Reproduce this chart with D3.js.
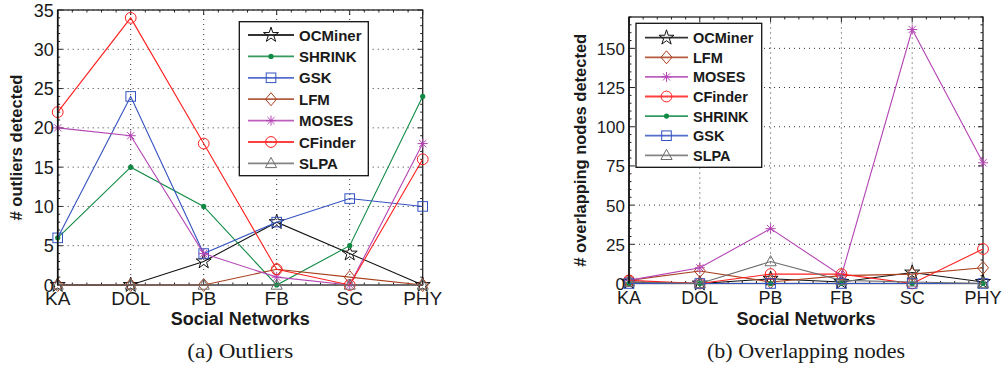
<!DOCTYPE html>
<html><head><meta charset="utf-8">
<script src="https://cdn.jsdelivr.net/npm/d3@7"></script>
<style>
body{margin:0;background:#fff}
svg{display:block}
text{font-family:"Liberation Sans",Arial,Helvetica,sans-serif;fill:#1a1a1a}
</style>
</head><body>
<svg id="fig" width="1004" height="367"></svg>
<script>
// Social networks on the x axis
const categories = ["KA", "DOL", "PB", "FB", "SC", "PHY"];

// (a) number of outliers detected per method
const outOCMiner = [0, 0, 3, 8, 4, 0];
const outSHRINK  = [6, 15, 10, 0, 5, 24];
const outGSK     = [6, 24, 4, 8, 11, 10];
const outLFM     = [0, 0, 0, 2, 1, 0];
const outMOSES   = [20, 19, 4, 1, 0, 18];
const outCFinder = [22, 34, 18, 2, 0, 16];
const outSLPA    = [0, 0, 0, 0, 0, 0];

// (b) number of overlapping nodes detected per method
const ovOCMiner = [1, 0, 3, 1, 7, 1];
const ovLFM     = [2, 8, 1, 5, 6, 10];
const ovMOSES   = [2, 10, 35, 5, 162, 77];
const ovCFinder = [2, 0, 6, 6, 0, 22];
const ovSHRINK  = [0, 0, 0, 0, 0, 0];
const ovGSK     = [0, 0, 0, 0, 0, 0];
const ovSLPA    = [1, 0, 14, 2, 1, 0];

// y tick labels
const outTicks = [0, 5, 10, 15, 20, 25, 30, 35];
const ovTicks  = [0, 25, 50, 75, 100, 125, 150];

// method styles (colour + marker)
const style = {
  OCMiner: {color: "#111111", marker: "star"},
  SHRINK:  {color: "#108a44", marker: "dot"},
  GSK:     {color: "#3553c0", marker: "square"},
  LFM:     {color: "#a8401e", marker: "diamond"},
  MOSES:   {color: "#b444b4", marker: "asterisk"},
  CFinder: {color: "#ff1e1e", marker: "circle"},
  SLPA:    {color: "#6e6e6e", marker: "triangle"}
};

const svg = d3.select("#fig");

function marker(g, type, color, x, y) {
  const m = g.append("g").attr("transform", `translate(${x},${y})`)
    .attr("fill", "none").attr("stroke", color).attr("stroke-width", 1);
  if (type === "star") {
    m.append("path").attr("d", d3.symbol(d3.symbolStar, 70)());
  } else if (type === "dot") {
    m.append("circle").attr("r", 2.6).attr("fill", color).attr("stroke", "none");
  } else if (type === "square") {
    m.append("rect").attr("x", -4.8).attr("y", -4.8).attr("width", 9.6).attr("height", 9.6);
  } else if (type === "diamond") {
    m.append("path").attr("d", "M0,-6.5L5.5,0L0,6.5L-5.5,0Z");
  } else if (type === "asterisk") {
    m.append("path").attr("d", "M-5,0H5M0,-5V5M-3.6,-3.6L3.6,3.6M-3.6,3.6L3.6,-3.6");
  } else if (type === "circle") {
    m.append("circle").attr("r", 5.4);
  } else if (type === "triangle") {
    m.append("path").attr("d", "M0,-6L5.6,4.2L-5.6,4.2Z");
  }
}

function panel(cfg) {
  const g = svg.append("g");
  const x = d3.scalePoint().domain(categories).range([cfg.x0, cfg.x1]).padding(0);
  const xi = d3.scaleLinear().domain([0, categories.length - 1]).range([cfg.x0, cfg.x1]);
  const y = d3.scaleLinear().domain([0, cfg.ymax]).range([cfg.y0, cfg.y1]);

  // dotted grid
  const grid = g.append("g").attr("stroke", "#333").attr("stroke-width", 1)
    .attr("stroke-dasharray", "1,4");
  categories.slice(1, -1).forEach(c => {
    grid.append("line").attr("x1", x(c)).attr("x2", x(c)).attr("y1", cfg.y0).attr("y2", cfg.y1);
  });
  cfg.ticks.slice(1).forEach(t => {
    grid.append("line").attr("x1", cfg.x0).attr("x2", cfg.x1).attr("y1", y(t)).attr("y2", y(t));
  });

  // minor and major ticks, drawn inward on all four sides
  const tk = g.append("g").attr("stroke", "#222").attr("stroke-width", 1);
  d3.range(0, cfg.ymax + 1e-9, cfg.minor).forEach(v => {
    const major = cfg.ticks.includes(v);
    const len = major ? 5 : 2.5;
    tk.append("line").attr("x1", cfg.x0).attr("x2", cfg.x0 + len).attr("y1", y(v)).attr("y2", y(v));
    tk.append("line").attr("x1", cfg.x1).attr("x2", cfg.x1 - len).attr("y1", y(v)).attr("y2", y(v));
  });
  d3.range(0, categories.length - 1 + 1e-9, 0.2).forEach(v => {
    const major = Math.abs(v - Math.round(v)) < 1e-6;
    const len = major ? 5 : 2.5;
    tk.append("line").attr("x1", xi(v)).attr("x2", xi(v)).attr("y1", cfg.y0).attr("y2", cfg.y0 - len);
    tk.append("line").attr("x1", xi(v)).attr("x2", xi(v)).attr("y1", cfg.y1).attr("y2", cfg.y1 + len);
  });

  // frame
  g.append("rect").attr("x", cfg.x0).attr("y", cfg.y1)
    .attr("width", cfg.x1 - cfg.x0).attr("height", cfg.y0 - cfg.y1)
    .attr("fill", "none").attr("stroke", "#222").attr("stroke-width", 1.3);

  // series
  cfg.series.forEach(s => {
    const st = style[s.name];
    const line = d3.line().x((d, i) => x(categories[i])).y(d => y(d));
    g.append("path").datum(s.values).attr("d", line)
      .attr("fill", "none").attr("stroke", st.color).attr("stroke-width", 1.1);
    s.values.forEach((v, i) => marker(g, st.marker, st.color, x(categories[i]), y(v)));
  });
  // axis line drawn over the zero-valued series
  g.append("line").attr("x1", cfg.x0).attr("x2", cfg.x0).attr("y1", cfg.y1).attr("y2", cfg.y0)
    .attr("stroke", "#111").attr("stroke-width", 1.6);

  // y tick labels
  cfg.ticks.forEach(t => {
    g.append("text").attr("x", cfg.x0 - 4).attr("y", y(t) + 6.5)
      .attr("text-anchor", "end").attr("font-size", cfg.fs).text(t);
  });
  // x tick labels
  categories.forEach(c => {
    g.append("text").attr("x", x(c)).attr("y", cfg.y0 + 20)
      .attr("text-anchor", "middle").attr("font-size", cfg.fs + 1).text(c);
  });
  // axis titles
  const cx = (cfg.x0 + cfg.x1) / 2;
  g.append("text").attr("x", cx).attr("y", 325).attr("text-anchor", "middle")
    .attr("font-size", 18).attr("font-weight", "bold").text("Social Networks");
  g.append("text").attr("transform", `translate(${cfg.ytx},${(cfg.y0 + cfg.y1) / 2}) rotate(-90)`)
    .attr("text-anchor", "middle").attr("font-size", 16.5).attr("font-weight", "bold")
    .text(cfg.ytitle);
  // caption
  g.append("text").attr("x", cx).attr("y", 358).attr("text-anchor", "middle")
    .style("font-family", "'Liberation Serif','DejaVu Serif',serif")
    .attr("font-size", 21).attr("textLength", cfg.capLen).attr("lengthAdjust", "spacingAndGlyphs")
    .text(cfg.caption);

  // legend
  const L = cfg.legend;
  const lg = g.append("g");
  lg.append("rect").attr("x", L.x).attr("y", L.y).attr("width", L.w).attr("height", L.h)
    .attr("fill", "#fff").attr("stroke", "#111").attr("stroke-width", 1.3);
  cfg.series.forEach((s, i) => {
    const st = style[s.name];
    const ly = L.row0 + i * L.step;
    lg.append("line").attr("x1", L.lx0).attr("x2", L.lx1).attr("y1", ly).attr("y2", ly)
      .attr("stroke", st.color).attr("stroke-width", 1.8).attr("stroke-opacity", 0.85);
    marker(lg, st.marker, st.color, (L.lx0 + L.lx1) / 2, ly);
    lg.append("text").attr("x", L.tx).attr("y", ly + 5.5).attr("font-size", L.fs)
      .attr("font-weight", "bold").text(s.name);
  });
}

panel({
  x0: 57.7, x1: 422.7, y0: 285, y1: 10, ymax: 35, ticks: outTicks, minor: 1, fs: 18,
  ytx: 22, ytitle: "# outliers detected", caption: "(a) Outliers", capLen: 106,
  series: [
    {name: "OCMiner", values: outOCMiner},
    {name: "SHRINK", values: outSHRINK},
    {name: "GSK", values: outGSK},
    {name: "LFM", values: outLFM},
    {name: "MOSES", values: outMOSES},
    {name: "CFinder", values: outCFinder},
    {name: "SLPA", values: outSLPA}
  ],
  legend: {x: 239.3, y: 21.7, w: 129, h: 154, row0: 35, step: 21.4,
           lx0: 248, lx1: 294, tx: 299, fs: 15}
});

panel({
  x0: 629, x1: 983, y0: 283.5, y1: 17, ymax: 170, ticks: ovTicks, minor: 5, fs: 17,
  ytx: 586, ytitle: "# overlapping nodes detected", caption: "(b) Overlapping nodes", capLen: 198,
  series: [
    {name: "OCMiner", values: ovOCMiner},
    {name: "LFM", values: ovLFM},
    {name: "MOSES", values: ovMOSES},
    {name: "CFinder", values: ovCFinder},
    {name: "SHRINK", values: ovSHRINK},
    {name: "GSK", values: ovGSK},
    {name: "SLPA", values: ovSLPA}
  ],
  legend: {x: 636, y: 23.3, w: 125.7, h: 144, row0: 37.7, step: 19.6,
           lx0: 645, lx1: 688, tx: 693, fs: 14.5}
});
</script>
</body></html>
